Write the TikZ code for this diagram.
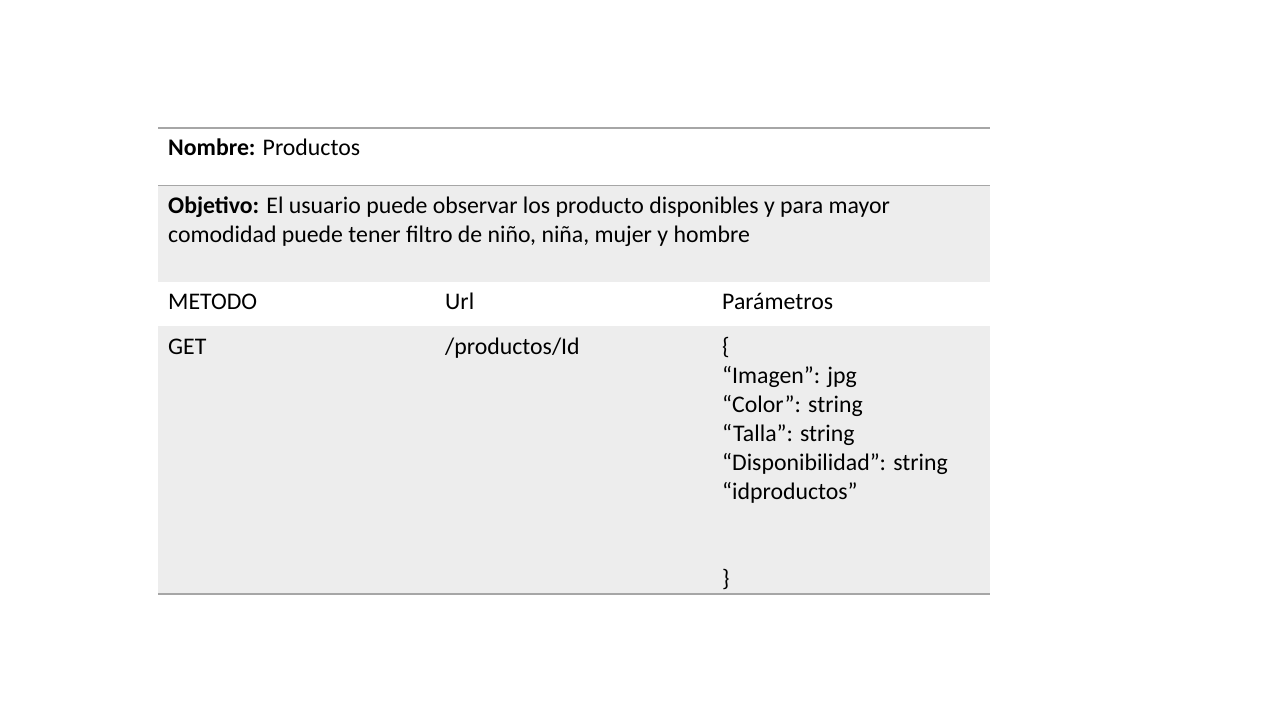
\documentclass[tikz,border=0pt]{standalone}
\usepackage{fontspec}
\setmainfont{Carlito}
\usepackage{xcolor}
\definecolor{rowgray}{HTML}{EDEDED}
\definecolor{rulegray}{HTML}{A6A6A6}
\tikzstyle{cell text} = [anchor=base west, inner sep=0, align=left]
\tikzstyle{rule line} = [draw=rulegray, line width=1.3]

\begin{document}
\begin{tikzpicture}[x=1pt, y=-1pt,
                    font=\fontsize{23.8}{29}\selectfont
                    ]
    \useasboundingbox[fill=white] (0,0) rectangle (1280,720);

    % Shaded rows
    \fill[rowgray] (158,186) rectangle (990,282);
    \fill[rowgray] (158,326) rectangle (990,594);

    % Horizontal rules
    \draw[rule line] (158,128) -- (990,128);
    \draw[rule line] (158,185.5) -- (990,185.5);
    \draw[rule line] (158,594) -- (990,594);

    % Header rows (base = last line)
    \node(nombre)[cell text] at (168,155) {\textbf{Nombre:} Productos};
    \node(objetivo)[cell text] at (168,242) {\textbf{Objetivo:} El usuario puede observar los producto disponibles y para mayor\\comodidad puede tener filtro de niño, niña, mujer y hombre};

    % Column titles
    \node(metodo)[cell text] at (168,309) {METODO};
    \node(url)[cell text] at (445,309) {Url};
    \node(param)[cell text] at (722,309) {Parámetros};

    % Values
    \node(get)[cell text] at (168,354) {GET};
    \node(ruta)[cell text] at (445,354) {/productos/Id};
    \node(json)[cell text] at (722,586) {\{\\“Imagen”: jpg\\“Color”: string\\“Talla”: string\\“Disponibilidad”: string\\“idproductos”\\~\\~\\\}};

\end{tikzpicture}
\end{document}
